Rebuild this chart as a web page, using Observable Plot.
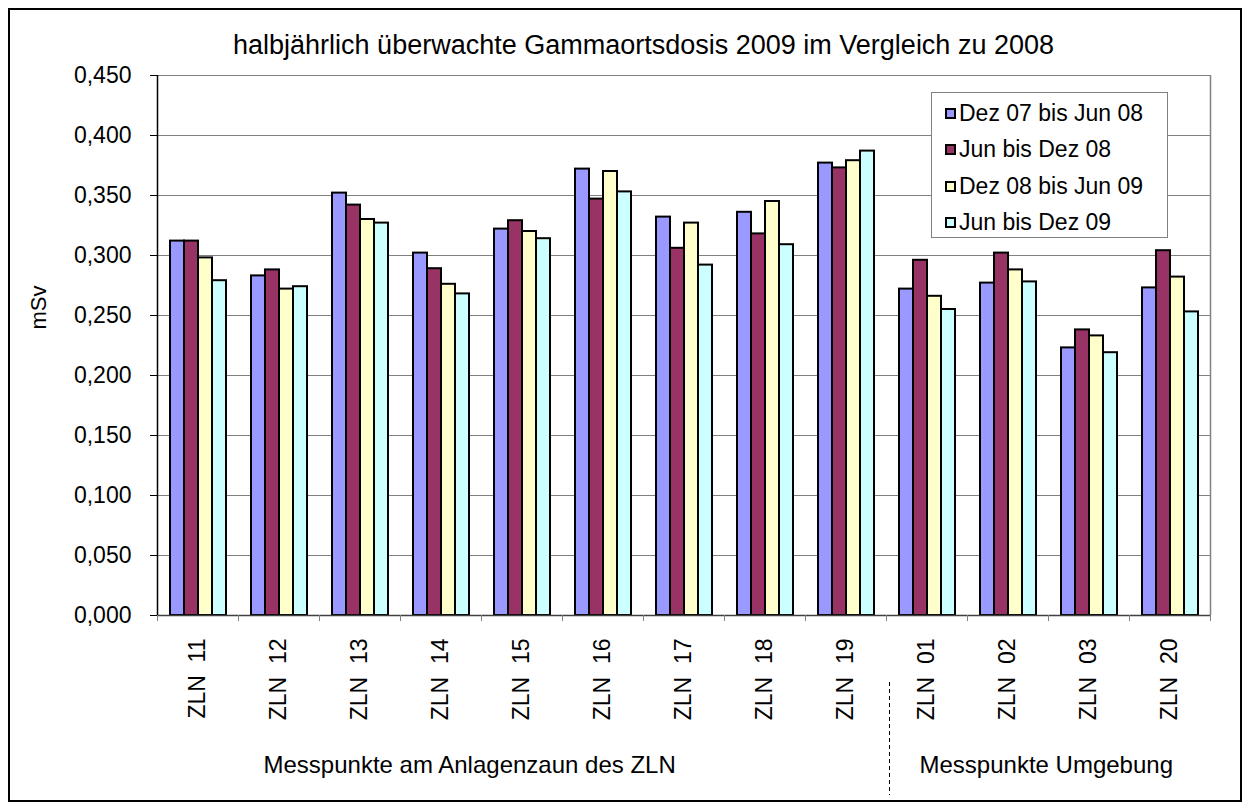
<!DOCTYPE html>
<html>
<head>
<meta charset="utf-8">
<script src="https://cdn.jsdelivr.net/npm/d3@7"></script>
<script src="https://cdn.jsdelivr.net/npm/@observablehq/plot@0.6"></script>
<style>
  html, body { margin: 0; padding: 0; background: #fff; }
  #wrap { position: relative; width: 1250px; height: 810px; background: #fff; font-family: "Liberation Sans", Arial, sans-serif; }
  #outer { position: absolute; left: 8px; top: 8px; width: 1234px; height: 794px; border: 2px solid #000; box-sizing: border-box; pointer-events: none; }
  #legend { position: absolute; left: 931px; top: 92px; width: 237px; height: 146px; box-sizing: border-box; border: 1px solid #808080; background: #fff; padding: 2px 0 0 13px; }
  #legend .row { display: flex; align-items: center; height: 36.5px; font-size: 23px; color: #000; }
  #legend .sw { width: 11px; height: 11px; box-sizing: border-box; border: 2px solid #000; margin-right: 3px; }
</style>
</head>
<body>
<div id="wrap">
  <div id="outer"></div>
  <div id="legend"></div>
</div>
<script>
// ---- data ----
const title = "halbjährlich überwachte Gammaortsdosis 2009 im Vergleich zu 2008";
const yLabel = "mSv";
const categories = ["ZLN 11","ZLN 12","ZLN 13","ZLN 14","ZLN 15","ZLN 16","ZLN 17","ZLN 18","ZLN 19","ZLN 01","ZLN 02","ZLN 03","ZLN 20"];
const series = ["Dez 07 bis Jun 08","Jun bis Dez 08","Dez 08 bis Jun 09","Jun bis Dez 09"];
const dez07jun08 = [0.312,0.283,0.352,0.302,0.322,0.372,0.332,0.336,0.377,0.272,0.277,0.223,0.273];
const jundez08   = [0.312,0.288,0.342,0.289,0.329,0.347,0.306,0.318,0.373,0.296,0.302,0.238,0.304];
const dez08jun09 = [0.298,0.272,0.330,0.276,0.320,0.370,0.327,0.345,0.379,0.266,0.288,0.233,0.282];
const jundez09   = [0.279,0.274,0.327,0.268,0.314,0.353,0.292,0.309,0.387,0.255,0.278,0.219,0.253];
const yTicks = [0, 0.05, 0.1, 0.15, 0.2, 0.25, 0.3, 0.35, 0.4, 0.45];
const groupLabels = ["Messpunkte am Anlagenzaun des ZLN", "Messpunkte Umgebung"];
const colors = ["#9999FF", "#993366", "#FFFFCC", "#CCFFFF"];

// ---- build table ----
const seriesValues = [dez07jun08, jundez08, dez08jun09, jundez09];
const data = [];
categories.forEach((c, i) => series.forEach((s, j) => data.push({cat: c, series: s, value: seriesValues[j][i]})));
const catRows = categories.map(c => ({cat: c}));
const firstCat = [{cat: categories[0]}];
const lastCat = [{cat: categories[categories.length - 1]}];
const splitCat = [{cat: categories[9]}];

// ---- layout ----
const W = 1250, H = 810, ML = 157, MR = 40, MT = 75, MB = 195;
const half = (W - ML - MR) / categories.length / 2;
const plotH = H - MT - MB;
const font = "Liberation Sans, Arial, sans-serif";

const chart = Plot.plot({
  width: W, height: H,
  marginLeft: ML, marginRight: MR, marginTop: MT, marginBottom: MB,
  style: {fontFamily: font, fontSize: "23px", background: "white", overflow: "visible", color: "#000"},
  fx: {domain: categories, padding: 0, label: null},
  x: {domain: series, paddingInner: 0, paddingOuter: 0.7, axis: null},
  y: {domain: [0, 0.45], label: null},
  color: {domain: series, range: colors},
  marks: [
    Plot.gridY(yTicks, {stroke: "#808080", strokeOpacity: 1, strokeWidth: 1}),
    Plot.barY(data, {fx: "cat", x: "series", y: "value", fill: "series", stroke: "#000", strokeWidth: 2}),
    Plot.ruleY([0], {stroke: "#404040", strokeWidth: 1.5}),
    // left axis line and right plot border
    Plot.ruleX(firstCat, {fx: "cat", x: null, dx: -half, stroke: "#000", strokeWidth: 1.5}),
    Plot.ruleX(lastCat, {fx: "cat", x: null, dx: half, stroke: "#808080", strokeWidth: 1.5}),
    // category boundary ticks
    Plot.ruleX(catRows, {fx: "cat", x: null, dx: -half, insetTop: plotH, insetBottom: -6, stroke: "#808080"}),
    Plot.ruleX(lastCat, {fx: "cat", x: null, dx: half, insetTop: plotH, insetBottom: -6, stroke: "#808080"}),
    // dashed separator between groups
    Plot.ruleX(splitCat, {fx: "cat", x: null, dx: -half + 3, insetTop: plotH + 67, insetBottom: -180, stroke: "#000", strokeDasharray: "4,3"}),
    Plot.axisY({ticks: yTicks, tickFormat: d => d.toFixed(3).replace(".", ","), tickSize: 7, tickPadding: 19, fontSize: 23, stroke: "#000", label: null}),
    Plot.axisFx({anchor: "bottom", tickSize: 0, tickRotate: -90, tickPadding: 23, fontSize: 23, label: null,
      tickFormat: d => d.replace(" ", "\u00a0\u00a0")}),
    Plot.text([{cat: categories[5], t: title}], {fx: "cat", text: "t", frameAnchor: "top-right", lineAnchor: "middle", textAnchor: "middle", dy: -30, fontSize: 27}),
    Plot.text([{cat: categories[0], t: yLabel}], {fx: "cat", text: "t", frameAnchor: "left", lineAnchor: "middle", textAnchor: "middle", rotate: -90, dx: -119, dy: -38, fontSize: 22}),
    Plot.text([{cat: categories[0], t: groupLabels[0]}], {fx: "cat", text: "t", frameAnchor: "bottom-left", lineAnchor: "middle", textAnchor: "start", dx: 106, dy: 150, fontSize: 24}),
    Plot.text([{cat: categories[9], t: groupLabels[1]}], {fx: "cat", text: "t", frameAnchor: "bottom-left", lineAnchor: "middle", textAnchor: "start", dx: 33, dy: 150, fontSize: 24})
  ]
});
const wrap = document.getElementById("wrap");
wrap.insertBefore(chart, wrap.firstChild);

// legend
const legend = document.getElementById("legend");
series.forEach((s, i) => {
  const row = document.createElement("div");
  row.className = "row";
  const sw = document.createElement("div");
  sw.className = "sw";
  sw.style.background = colors[i];
  const t = document.createElement("span");
  t.textContent = s;
  row.appendChild(sw); row.appendChild(t);
  legend.appendChild(row);
});
</script>
</body>
</html>
